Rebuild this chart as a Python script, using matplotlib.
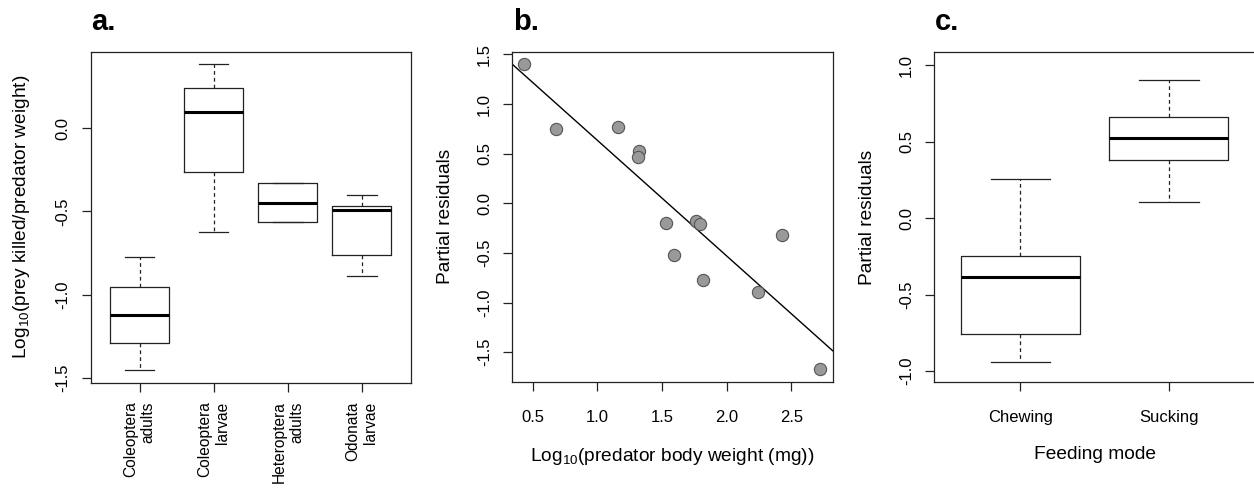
import numpy as np
import matplotlib
matplotlib.use("Agg")
from matplotlib import pyplot as plt

plt.rcParams['font.family'] = ['Liberation Sans', 'DejaVu Sans']
plt.rcParams['mathtext.default'] = 'regular'
plt.rcParams['axes.unicode_minus'] = False

# panel a: box stats
taxa = ['Coleoptera\nadults', 'Coleoptera\nlarvae', 'Heteroptera\nadults', 'Odonata\nlarvae']
a_whislo = [-1.453, -0.625, -0.565, -0.890]
a_q1 = [-1.291, -0.265, -0.565, -0.764]
a_med = [-1.124, 0.096, -0.451, -0.491]
a_q3 = [-0.952, 0.240, -0.331, -0.467]
a_whishi = [-0.776, 0.385, -0.331, -0.401]

# panel b: partial residuals vs log10 body weight
log_weight = [0.433, 0.678, 1.162, 1.320, 1.314, 1.534, 1.595, 1.763, 1.794, 1.814, 2.245, 2.425, 2.722]
resid = [1.401, 0.753, 0.773, 0.528, 0.470, -0.195, -0.524, -0.175, -0.208, -0.776, -0.890, -0.323, -1.673]
fit_intercept = 1.80
fit_slope = -1.165

# panel c: feeding mode
modes = ['Chewing', 'Sucking']
c_whislo = [-0.938, 0.107]
c_q1 = [-0.757, 0.380]
c_med = [-0.386, 0.526]
c_q3 = [-0.246, 0.663]
c_whishi = [0.255, 0.903]

W, H = 1254, 490
fig = plt.figure(figsize=(W / 100, H / 100), dpi=100)

def make_ax(x0, y0, x1, y1):
    return fig.add_axes([x0 / W, 1 - y1 / H, (x1 - x0) / W, (y1 - y0) / H])

axa = make_ax(90.7, 51.7, 410.7, 382.7)
axb = make_ax(512.3, 51.7, 832.7, 382.0)
axc = make_ax(934.3, 52.3, 1255.0, 382.3)

edge = '#222222'
tick_fs = 12
lab_fs = 13.8

def style(ax, xpad=13.5):
    for s in ax.spines.values():
        s.set_color(edge)
        s.set_linewidth(0.9)
    ax.tick_params(direction='out', length=6.5, width=0.9, color=edge, labelsize=tick_fs)
    ax.tick_params(axis='y', labelrotation=90, pad=8)
    ax.tick_params(axis='x', pad=xpad)
    for t in ax.get_yticklabels():
        t.set_va('center')

def draw_box(ax, names, lo, q1, med, q3, hi):
    stats = []
    for i in range(len(names)):
        stats.append(dict(whislo=lo[i], q1=q1[i], med=med[i], q3=q3[i], whishi=hi[i], fliers=[]))
    ax.bxp(stats, positions=range(1, len(names) + 1), widths=0.8, capwidths=0.4,
           showfliers=False, patch_artist=False,
           boxprops=dict(color=edge, linewidth=0.9),
           medianprops=dict(color='black', linewidth=2.2),
           whiskerprops=dict(color=edge, linewidth=0.9, linestyle=(0, (3, 2.5))),
           capprops=dict(color=edge, linewidth=0.9))

# a.
draw_box(axa, taxa, a_whislo, a_q1, a_med, a_q3, a_whishi)
axa.set_xlim(0.34, 4.66)
axa.set_ylim(-1.53, 0.46)
axa.set_yticks([-1.5, -1.0, -0.5, 0.0])
axa.set_xticks(range(1, 5))
axa.set_ylabel('Log$_{10}$(prey killed/predator weight)', fontsize=lab_fs, labelpad=17)
style(axa, xpad=7)
axa.set_xticklabels(taxa, rotation=90, ha='center', va='top', multialignment='right', fontsize=11.2)

# b.
axb.scatter(log_weight, resid, s=78, facecolor='#999999', edgecolor='#555555', linewidth=0.8, zorder=3)
axb.axline((0, fit_intercept), slope=fit_slope, color='black', linewidth=1.0)
axb.set_xlim(0.342, 2.82)
axb.set_ylim(-1.80, 1.528)
axb.set_xticks([0.5, 1.0, 1.5, 2.0, 2.5])
axb.set_yticks([-1.5, -1.0, -0.5, 0.0, 0.5, 1.0, 1.5])
axb.set_xlabel('Log$_{10}$(predator body weight (mg))', fontsize=lab_fs, labelpad=15)
axb.set_ylabel('Partial residuals', fontsize=lab_fs, labelpad=17)
style(axb)

# c.
draw_box(axc, modes, c_whislo, c_q1, c_med, c_q3, c_whishi)
axc.set_xlim(0.42, 2.58)
axc.set_ylim(-1.073, 1.086)
axc.set_yticks([-1.0, -0.5, 0.0, 0.5, 1.0])
axc.set_xticks([1, 2])
axc.set_xticklabels(modes)
axc.set_xlabel('Feeding mode', fontsize=lab_fs, labelpad=15)
axc.set_ylabel('Partial residuals', fontsize=lab_fs, labelpad=17)
style(axc)

for lbl, x in [('a.', 91), ('b.', 513), ('c.', 935)]:
    fig.text(x / W, 1 - 30.5 / H, lbl, fontsize=21, fontweight='bold', va='baseline', ha='left')

fig.savefig('out.png', dpi=100)
